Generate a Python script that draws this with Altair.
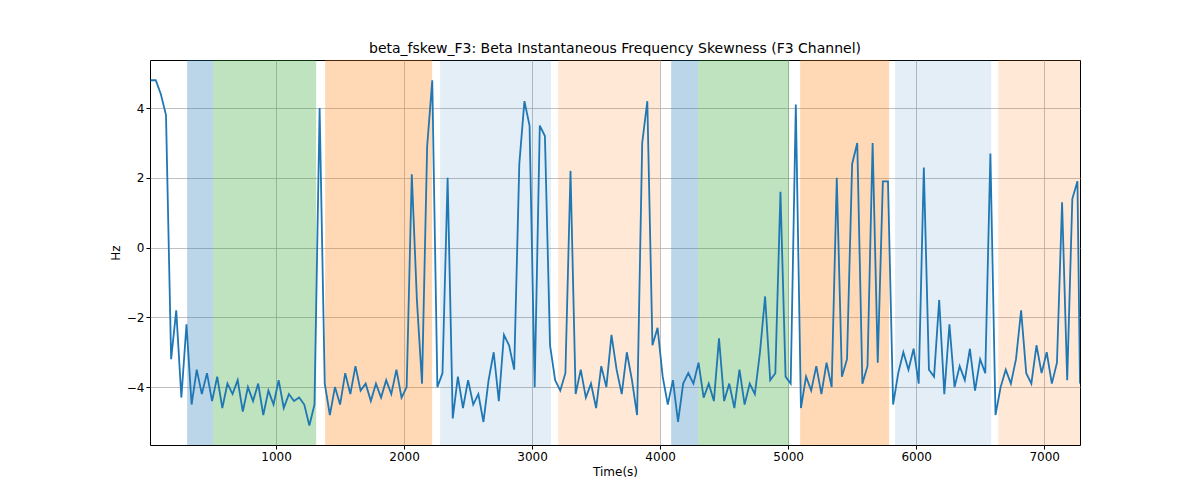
import pandas as pd
import altair as alt

# signal, sampled every 40 s starting at 20 s, plus the end point at 7280 s
values = [
    4.8, 4.8, 4.4, 3.8, -3.2, -1.8, -4.3, -2.2, -4.5, -3.5,
    -4.2, -3.6, -4.4, -3.7, -4.6, -3.9, -4.2, -3.8, -4.7, -4.0,
    -4.4, -3.9, -4.8, -4.1, -4.5, -3.8, -4.6, -4.2, -4.4, -4.3,
    -4.5, -5.1, -4.5, 4.0, -3.9, -4.8, -4.0, -4.5, -3.6, -4.2,
    -3.4, -4.1, -3.9, -4.4, -3.9, -4.3, -3.8, -4.2, -3.5, -4.3,
    -4.0, 2.1, -1.5, -3.9, 2.9, 4.8, -4.0, -3.6, 2.0, -4.9,
    -3.7, -4.6, -3.8, -4.5, -4.2, -5.0, -3.8, -3.0, -4.4, -2.5,
    -2.8, -3.5, 2.4, 4.2, 3.5, -4.0, 3.5, 3.2, -2.8, -3.8,
    -4.1, -3.6, 2.2, -4.2, -3.5, -4.3, -3.9, -4.6, -3.4, -4.0,
    -2.5, -3.5, -4.2, -3.0, -3.8, -4.8, 3.0, 4.2, -2.8, -2.3,
    -3.7, -4.5, -3.8, -5.0, -3.9, -3.6, -3.9, -3.3, -4.3, -3.9,
    -4.4, -2.6, -4.4, -3.9, -4.6, -3.5, -4.5, -3.9, -4.2, -3.0,
    -1.4, -3.8, -3.6, 1.6, -3.7, -3.9, 4.1, -4.6, -3.7, -4.1,
    -3.4, -4.2, -3.3, -4.0, 2.0, -3.7, -3.2, 2.4, 3.0, -3.9,
    -3.4, 3.0, -3.3, 1.9, 1.9, -4.5, -3.6, -3.0, -3.5, -2.9,
    -3.9, 2.3, -3.5, -3.7, -1.5, -4.2, -2.2, -4.0, -3.4, -3.8,
    -2.9, -4.1, -3.2, -3.6, 2.7, -4.8, -4.0, -3.5, -3.9, -3.2,
    -1.8, -3.6, -3.9, -2.8, -3.6, -3.0, -3.9, -3.3, 1.3, -3.8,
    1.4, 1.9, -3.9,
]
times = [20 + 40 * i for i in range(len(values) - 1)] + [7280]

span_start = [305, 508, 1383, 2281, 3203, 4086, 4297, 5094, 5836, 6641]
span_end = [508, 1313, 2219, 3148, 4000, 4297, 5008, 5789, 6586, 7280]
span_color = ["#1f77b4", "#2ca02c", "#ff7f0e", "#1f77b4", "#ff7f0e",
              "#1f77b4", "#2ca02c", "#ff7f0e", "#1f77b4", "#ff7f0e"]
span_alpha = [0.3, 0.3, 0.3, 0.12, 0.17, 0.3, 0.3, 0.3, 0.12, 0.17]

df = pd.DataFrame({"t": times, "v": values})
spans = pd.DataFrame({"x0": span_start, "x1": span_end, "c": span_color, "a": span_alpha})

xs = alt.Scale(domain=[15, 7280], nice=False, zero=False)
ys = alt.Scale(domain=[-5.66, 5.38], nice=False, zero=False)

bands = alt.Chart(spans).mark_rect().encode(
    x=alt.X("x0:Q", scale=xs),
    x2="x1:Q",
    color=alt.Color("c:N", scale=None),
    opacity=alt.Opacity("a:Q", scale=None),
)

line = alt.Chart(df).mark_line(color="#1f77b4", strokeWidth=1.8, clip=True).encode(
    x=alt.X("t:Q", scale=xs, title="Time(s)",
            axis=alt.Axis(values=[1000, 2000, 3000, 4000, 5000, 6000, 7000], format="d")),
    y=alt.Y("v:Q", scale=ys, title="Hz", axis=alt.Axis(values=[-4, -2, 0, 2, 4])),
)

chart = alt.layer(bands, line).properties(
    width=930, height=385,
    title="beta_fskew_F3: Beta Instantaneous Frequency Skewness (F3 Channel)",
    autosize=alt.AutoSizeParams(type="none"),
    padding={"left": 142, "top": 52, "right": 100, "bottom": 50},
).configure_view(stroke="black", strokeWidth=1).configure_axis(
    grid=True, gridColor="#b0b0b0", gridWidth=0.8, domain=False,
    tickColor="black", tickSize=4, labelColor="black", labelFontSize=12,
    titleFontSize=12, titleFontWeight="normal", labelFont="DejaVu Sans", titleFont="DejaVu Sans",
    titleColor="black",
).configure_title(fontSize=14, fontWeight="normal", font="DejaVu Sans", color="black")

chart.save("out.html", embed_options={"renderer": "svg", "actions": False})
